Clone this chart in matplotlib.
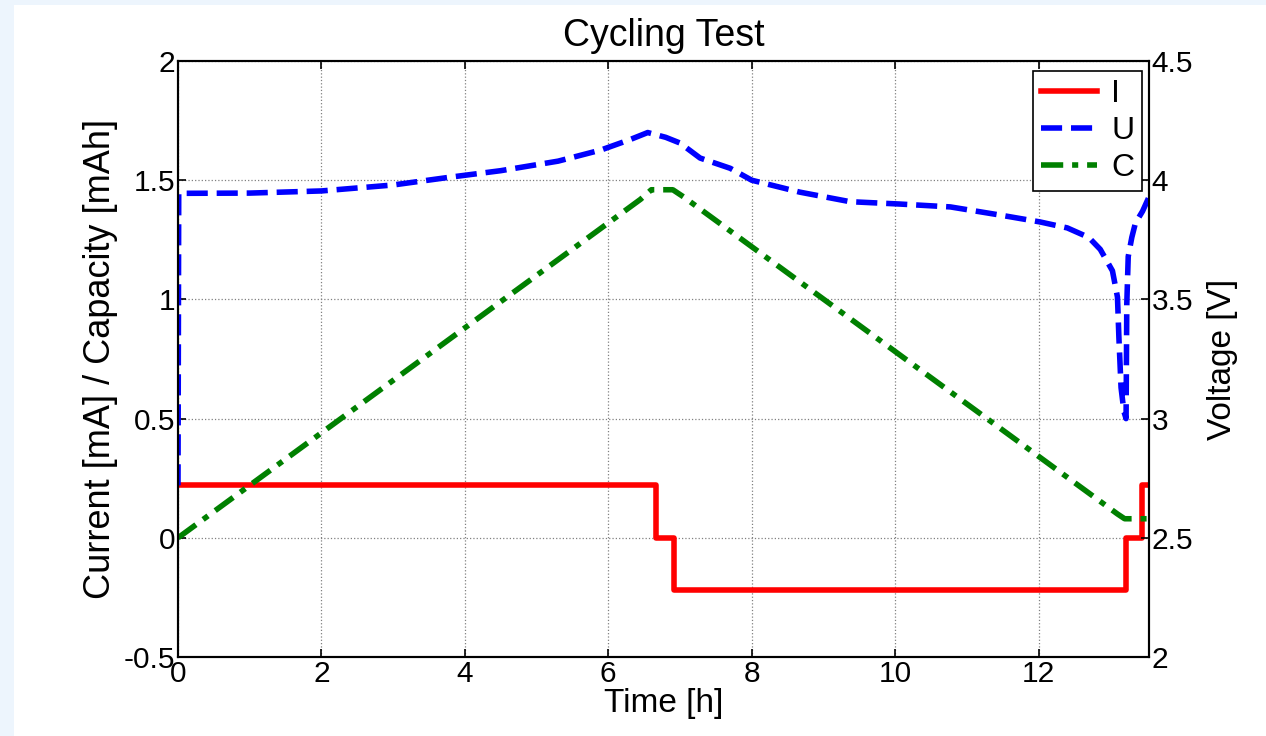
import matplotlib
matplotlib.use("Agg")
import matplotlib.pyplot as plt
from matplotlib.patches import Rectangle

plt.rcParams['font.family'] = ['Liberation Sans', 'DejaVu Sans']

# current I [mA] (step profile)
t_i = [0, 6.66, 6.66, 6.91, 6.91, 13.22, 13.22, 13.44, 13.44, 13.54]
cur = [0.22, 0.22, 0, 0, -0.22, -0.22, 0, 0, 0.22, 0.22]

# voltage U [V]
t_u = [0, 0.01, 1.0, 2.0, 3.0, 3.8, 4.5, 5.3, 5.9, 6.3, 6.55, 6.8, 7.0, 7.28, 7.7,
       8.0, 8.67, 9.37, 10.07, 10.77, 11.46, 12.02, 12.4, 12.7, 12.86, 13.03,
       13.1, 13.12, 13.15, 13.19, 13.22, 13.23, 13.25, 13.3, 13.35, 13.45, 13.54]
volt = [2.72, 3.945, 3.946, 3.955, 3.98, 4.013, 4.04, 4.08, 4.127, 4.17, 4.2, 4.18,
        4.156, 4.093, 4.05, 4.0, 3.95, 3.91, 3.9, 3.888, 3.854, 3.825, 3.8, 3.76,
        3.71, 3.62, 3.51, 3.34, 3.13, 3.03, 3.0, 3.48, 3.68, 3.76, 3.82, 3.87, 3.93]

# capacity C [mAh]
t_c = [0, 6.45, 6.6, 6.9, 7.05, 13.1, 13.2, 13.54]
cap = [0, 1.42, 1.46, 1.46, 1.43, 0.1, 0.08, 0.08]

fig = plt.figure(figsize=(12.66, 7.36), dpi=100, facecolor='#edf5fd')
bg = Rectangle((14 / 1266, 0), 1, 731 / 736, transform=fig.transFigure,
               facecolor='white', edgecolor='none', zorder=-5)
fig.add_artist(bg)

ax = fig.add_axes([0.1406, 0.1073, 0.7670, 0.8098])
ax2 = ax.twinx()

l1, = ax.plot(t_i, cur, color='red', lw=4, label='I')
l3, = ax.plot(t_c, cap, color='green', lw=4, ls=(0, (4, 1.6, 1.1, 1.6)), label='C')
l2, = ax2.plot(t_u, volt, color='blue', lw=4, ls=(0, (3.8, 1.6)), label='U')

ax.set_xlim(0, 13.54)
ax.set_ylim(-0.5, 2)
ax2.set_ylim(2, 4.5)
ax.set_xticks(range(0, 13, 2))
ax.set_yticks([-0.5, 0, 0.5, 1, 1.5, 2])
ax.set_yticklabels(['-0.5', '0', '0.5', '1', '1.5', '2'])
ax2.set_yticks([2, 2.5, 3, 3.5, 4, 4.5])
ax2.set_yticklabels(['2', '2.5', '3', '3.5', '4', '4.5'])

ax.grid(True, color='#808080', ls=':', lw=0.9)
for a in (ax, ax2):
    a.tick_params(direction='in', length=6, width=1.2, labelsize=21.5, pad=2)
    for s in a.spines.values():
        s.set_linewidth(1.5)
ax.tick_params(top=True)

ax.set_xlabel('Time [h]', fontsize=24, labelpad=0)
ax.set_ylabel('Current [mA] / Capacity [mAh]', fontsize=26, labelpad=4)
ax2.set_ylabel('Voltage [V]', fontsize=24, labelpad=10)
ax.set_title('Cycling Test', fontsize=27, pad=11)

leg = ax.legend([l1, l2, l3], ['I', 'U', 'C'], loc='upper right', fontsize=23,
                frameon=True, fancybox=False, edgecolor='black', framealpha=1,
                handlelength=1.75, handletextpad=0.45, borderpad=0.25,
                labelspacing=0.22, borderaxespad=0,
                bbox_to_anchor=(0.993, 0.983))
leg.get_frame().set_linewidth(1.2)
leg.remove()
ax2.add_artist(leg)

fig.savefig('out.png', dpi=100, facecolor=fig.get_facecolor())
